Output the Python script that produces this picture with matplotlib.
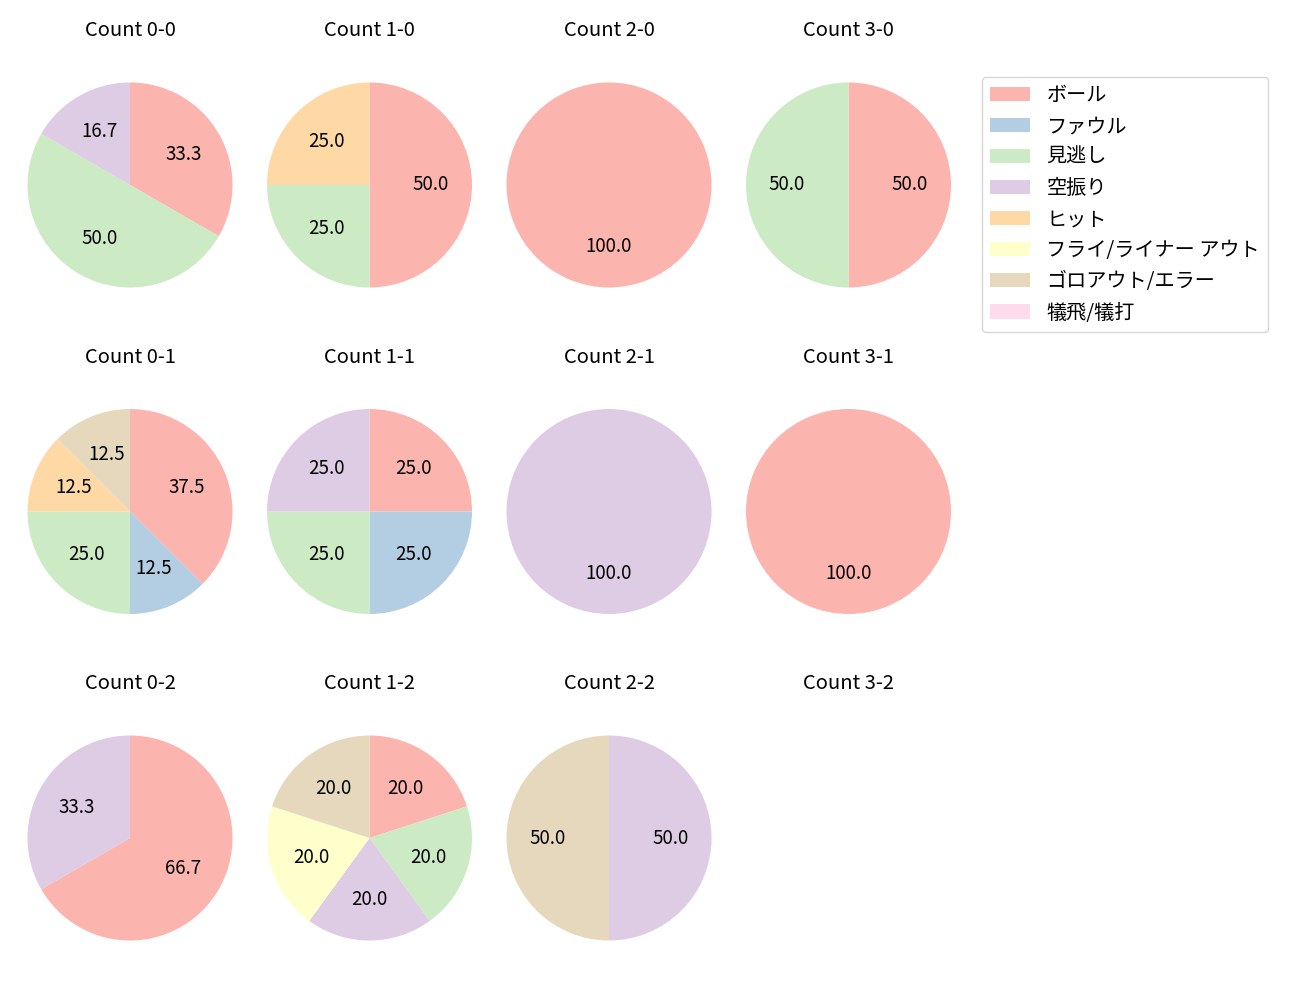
#importing the relevant modules
import matplotlib
matplotlib.use("Agg")
import matplotlib.pyplot as plt
from matplotlib.patches import Patch

plt.rcParams['font.family'] = ['Noto Sans CJK JP', 'DejaVu Sans']

#result categories and their colours (Pastel1)
categories = ['ボール', 'ファウル', '見逃し', '空振り', 'ヒット',
              'フライ/ライナー アウト', 'ゴロアウト/エラー', '犠飛/犠打']
colors = ['#fbb4ae', '#b3cde3', '#ccebc5', '#decbe4', '#fed9a6',
          '#ffffcc', '#e5d8bd', '#fddaec']

#counts per ball-strike situation, in category order
count_0_0 = [2, 0, 3, 1, 0, 0, 0, 0]
count_1_0 = [2, 0, 1, 0, 1, 0, 0, 0]
count_2_0 = [1, 0, 0, 0, 0, 0, 0, 0]
count_3_0 = [1, 0, 1, 0, 0, 0, 0, 0]
count_0_1 = [3, 1, 2, 0, 1, 0, 1, 0]
count_1_1 = [1, 1, 1, 1, 0, 0, 0, 0]
count_2_1 = [0, 0, 0, 1, 0, 0, 0, 0]
count_3_1 = [1, 0, 0, 0, 0, 0, 0, 0]
count_0_2 = [2, 0, 0, 1, 0, 0, 0, 0]
count_1_2 = [1, 0, 1, 1, 0, 1, 1, 0]
count_2_2 = [0, 0, 0, 1, 0, 0, 1, 0]
count_3_2 = [0, 0, 0, 0, 0, 0, 0, 0]

grid = [[count_0_0, count_1_0, count_2_0, count_3_0],
        [count_0_1, count_1_1, count_2_1, count_3_1],
        [count_0_2, count_1_2, count_2_2, count_3_2]]

fig, axes = plt.subplots(3, 4, figsize=(13, 10), dpi=100)
fig.subplots_adjust(left=0.0079, right=0.7448, top=0.945, bottom=0.032,
                    wspace=0.0, hspace=0.256)

for strikes, row in enumerate(grid):
    for balls, counts in enumerate(row):
        ax = axes[strikes][balls]
        ax.set_title(f'Count {balls}-{strikes}', fontsize=14.5, pad=21)
        #only keep non-empty slices
        vals = [v for v in counts if v > 0]
        cols = [c for v, c in zip(counts, colors) if v > 0]
        ax.set_aspect('equal')
        if not vals:
            #empty situation: keep the same box so the title lines up
            ax.set_xlim(-1.25, 1.25)
            ax.set_ylim(-1.25, 1.25)
            ax.axis('off')
            continue
        ax.pie(vals, colors=cols, startangle=90, counterclock=False,
               autopct='%.1f', radius=1.07, textprops={'fontsize': 13.5})

#legend with every category
handles = [Patch(facecolor=c, label=l) for c, l in zip(colors, categories)]
fig.legend(handles=handles, loc='upper left', bbox_to_anchor=(0.7554, 0.923),
           borderaxespad=0, fontsize=14.5)

fig.savefig('out.png')
